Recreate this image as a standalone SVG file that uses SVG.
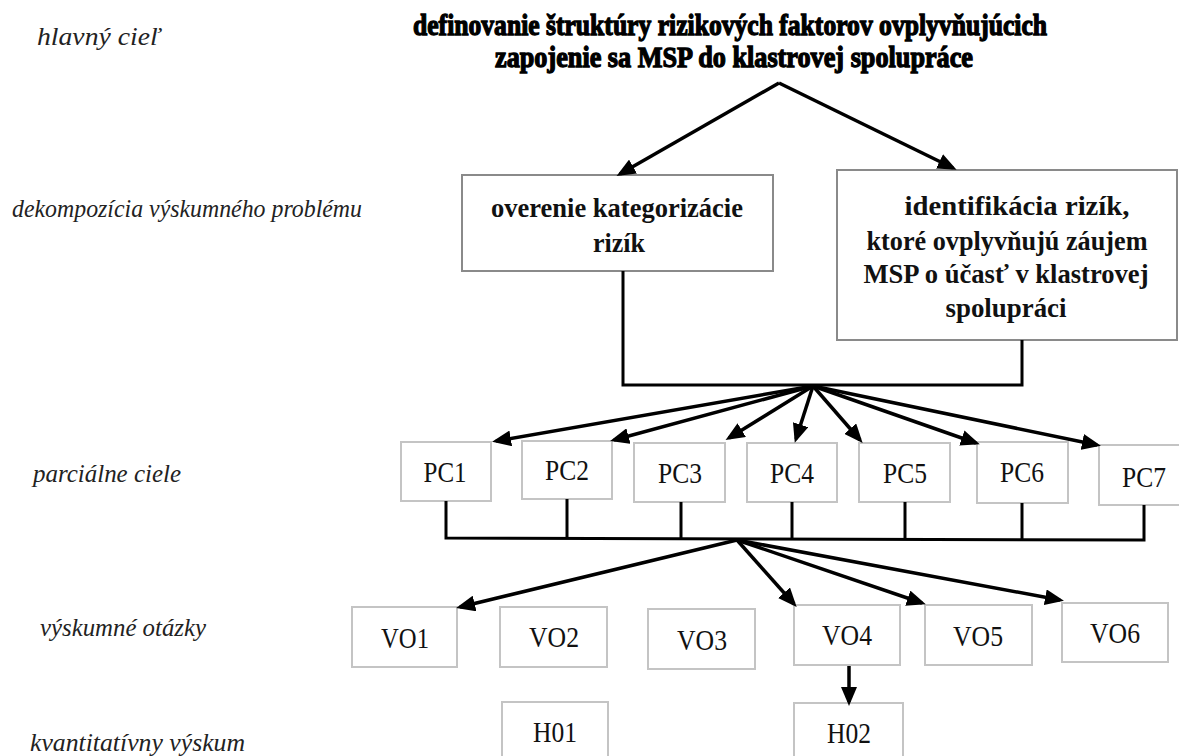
<svg xmlns="http://www.w3.org/2000/svg" width="1179" height="756" viewBox="0 0 1179 756">
<style>
.lbl{font-family:"Liberation Serif","Times New Roman",serif;font-style:italic;font-size:25px;fill:#222}
.title{font-family:"Liberation Serif","Times New Roman",serif;font-weight:bold;font-size:30px;fill:#000;stroke:#000;stroke-width:1.3}
.bt{font-family:"Liberation Serif","Times New Roman",serif;font-weight:bold;font-size:28px;fill:#111;text-anchor:middle}
.box{fill:#fff;stroke:#8a8a8a;stroke-width:2}
.sbox{fill:#fff;stroke:#c4c4c4;stroke-width:2}
.st{font-family:"Liberation Serif","Times New Roman",serif;font-size:30px;fill:#111;text-anchor:middle}
.ln{fill:none;stroke:#000;stroke-width:3}
.ar{fill:none;stroke:#000;stroke-width:3.5;marker-end:url(#ah)}
</style>
<defs>
<marker id="ah" markerUnits="userSpaceOnUse" markerWidth="20" markerHeight="16" refX="15" refY="8" orient="auto">
<path d="M0,0 L19,8 L0,16 z" fill="#000"/>
</marker>
</defs>
<rect width="1179" height="756" fill="#fff"/>

<g id="labels">
<text class="lbl" x="37" y="45" textLength="123" lengthAdjust="spacingAndGlyphs">hlavný cieľ</text>
<text class="lbl" x="12" y="217" textLength="350" lengthAdjust="spacingAndGlyphs">dekompozícia výskumného problému</text>
<text class="lbl" x="33" y="482" textLength="148" lengthAdjust="spacingAndGlyphs">parciálne ciele</text>
<text class="lbl" x="40" y="636" textLength="166" lengthAdjust="spacingAndGlyphs">výskumné otázky</text>
<text class="lbl" x="30" y="751" textLength="215" lengthAdjust="spacingAndGlyphs">kvantitatívny výskum</text>
</g>

<g id="main-goal">
<text class="title" x="413" y="35" textLength="634" lengthAdjust="spacingAndGlyphs">definovanie štruktúry rizikových faktorov ovplyvňujúcich</text>
<text class="title" x="495" y="67" textLength="478" lengthAdjust="spacingAndGlyphs">zapojenie sa MSP do klastrovej spolupráce</text>
</g>

<g id="box-overenie">
<rect class="box" x="462" y="175" width="311" height="96"/>
<text class="bt" x="617" y="217" textLength="252" lengthAdjust="spacingAndGlyphs">overenie kategorizácie</text>
<text class="bt" x="619" y="252" textLength="52" lengthAdjust="spacingAndGlyphs">rizík</text>
</g>

<g id="box-identifikacia">
<rect class="box" x="837" y="170" width="340" height="170"/>
<text class="bt" x="1017" y="215" textLength="225" lengthAdjust="spacingAndGlyphs">identifikácia rizík,</text>
<text class="bt" x="1007" y="250" textLength="281" lengthAdjust="spacingAndGlyphs">ktoré ovplyvňujú záujem</text>
<text class="bt" x="1006" y="283" textLength="285" lengthAdjust="spacingAndGlyphs">MSP o  účasť v klastrovej</text>
<text class="bt" x="1006" y="317" textLength="121" lengthAdjust="spacingAndGlyphs">spolupráci</text>
</g>

<g id="pc-nodes">
<g id="PC1"><rect class="sbox" x="401" y="442" width="90" height="59"/><text class="st" x="445" y="482" textLength="43" lengthAdjust="spacingAndGlyphs">PC1</text></g>
<g id="PC2"><rect class="sbox" x="522" y="441" width="90" height="58"/><text class="st" x="567" y="480" textLength="44" lengthAdjust="spacingAndGlyphs">PC2</text></g>
<g id="PC3"><rect class="sbox" x="634" y="443" width="91" height="59"/><text class="st" x="680" y="483" textLength="44" lengthAdjust="spacingAndGlyphs">PC3</text></g>
<g id="PC4"><rect class="sbox" x="747" y="443" width="90" height="59"/><text class="st" x="792" y="483" textLength="44" lengthAdjust="spacingAndGlyphs">PC4</text></g>
<g id="PC5"><rect class="sbox" x="859" y="443" width="91" height="59"/><text class="st" x="905" y="483" textLength="44" lengthAdjust="spacingAndGlyphs">PC5</text></g>
<g id="PC6"><rect class="sbox" x="977" y="442" width="91" height="61"/><text class="st" x="1022" y="482" textLength="44" lengthAdjust="spacingAndGlyphs">PC6</text></g>
<g id="PC7"><rect class="sbox" x="1099" y="445" width="82" height="60"/><text class="st" x="1144" y="487" textLength="44" lengthAdjust="spacingAndGlyphs">PC7</text></g>
</g>

<g id="vo-nodes">
<g id="VO1"><rect class="sbox" x="352" y="607" width="105" height="60"/><text class="st" x="405" y="648" textLength="48" lengthAdjust="spacingAndGlyphs">VO1</text></g>
<g id="VO2"><rect class="sbox" x="500" y="607" width="107" height="60"/><text class="st" x="554" y="647" textLength="50" lengthAdjust="spacingAndGlyphs">VO2</text></g>
<g id="VO3"><rect class="sbox" x="648" y="609" width="107" height="60"/><text class="st" x="702" y="650" textLength="50" lengthAdjust="spacingAndGlyphs">VO3</text></g>
<g id="VO4"><rect class="sbox" x="794" y="605" width="106" height="60"/><text class="st" x="847" y="645" textLength="50" lengthAdjust="spacingAndGlyphs">VO4</text></g>
<g id="VO5"><rect class="sbox" x="925" y="605" width="107" height="60"/><text class="st" x="978" y="646" textLength="50" lengthAdjust="spacingAndGlyphs">VO5</text></g>
<g id="VO6"><rect class="sbox" x="1062" y="603" width="106" height="59"/><text class="st" x="1115" y="643" textLength="50" lengthAdjust="spacingAndGlyphs">VO6</text></g>
</g>

<g id="h-nodes">
<g id="H01"><rect class="sbox" x="502" y="702" width="106" height="60"/><text class="st" x="555" y="742" textLength="44" lengthAdjust="spacingAndGlyphs">H01</text></g>
<g id="H02"><rect class="sbox" x="794" y="703" width="109" height="60"/><text class="st" x="849" y="743" textLength="44" lengthAdjust="spacingAndGlyphs">H02</text></g>
</g>

<g id="connectors">
<line class="ar" x1="779" y1="83" x2="620" y2="174"/>
<line class="ar" x1="779" y1="83" x2="953" y2="168"/>
<polyline class="ln" points="623,271 623,385 1022,385 1022,340"/>
<line class="ar" x1="813" y1="386" x2="496" y2="441"/>
<line class="ar" x1="813" y1="386" x2="614" y2="440"/>
<line class="ar" x1="813" y1="386" x2="729" y2="438"/>
<line class="ar" x1="813" y1="386" x2="796" y2="439"/>
<line class="ar" x1="813" y1="386" x2="860" y2="440"/>
<line class="ar" x1="813" y1="386" x2="976" y2="443"/>
<line class="ar" x1="813" y1="386" x2="1097" y2="445"/>
<polyline class="ln" points="446,501 446,538 1144,540 1144,505"/>
<line class="ln" x1="567" y1="499" x2="567" y2="538"/>
<line class="ln" x1="681" y1="502" x2="681" y2="538"/>
<line class="ln" x1="792" y1="502" x2="792" y2="539"/>
<line class="ln" x1="905" y1="502" x2="905" y2="539"/>
<line class="ln" x1="1022" y1="503" x2="1022" y2="540"/>
<line class="ar" x1="737" y1="540" x2="460" y2="607"/>
<line class="ar" x1="737" y1="540" x2="794" y2="604"/>
<line class="ar" x1="737" y1="540" x2="922" y2="603"/>
<line class="ar" x1="737" y1="540" x2="1060" y2="600"/>
<line class="ar" x1="849" y1="666" x2="849" y2="702"/>
</g>
</svg>
